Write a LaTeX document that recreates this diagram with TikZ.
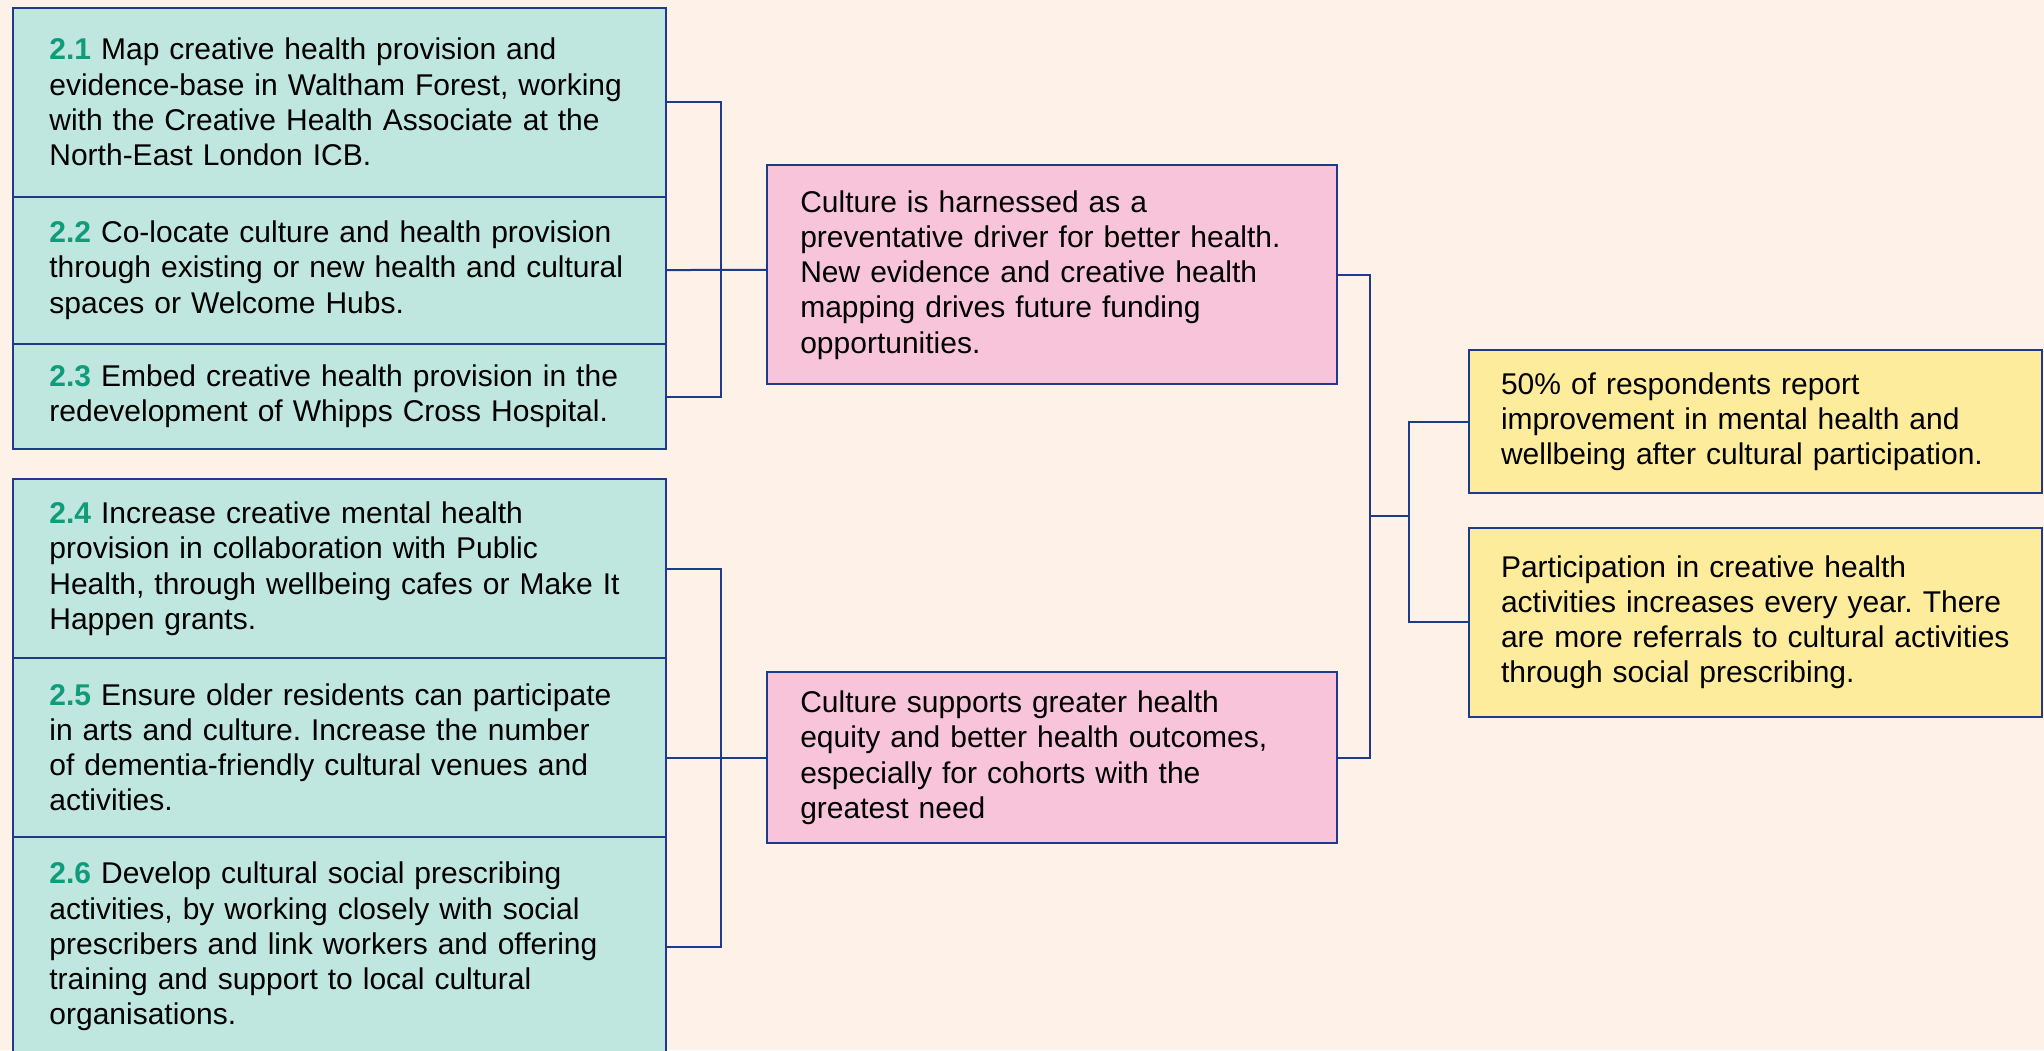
\documentclass[tikz,border=0pt]{standalone}
\usepackage{fontspec}
\setmainfont{Liberation Sans}
\frenchspacing

\definecolor{pagebg}{HTML}{FEF1E8}
\definecolor{actionfill}{HTML}{BFE6DF}
\definecolor{outcomefill}{HTML}{F7C4DA}
\definecolor{impactfill}{HTML}{FDEC9C}
\definecolor{navy}{HTML}{1F3A8A}
\definecolor{numgreen}{HTML}{109C7B}

\tikzset{
  box/.style={draw=navy, line width=1pt, anchor=north west, align=left,
    inner ysep=0pt, font=\fontsize{15}{17.6}\selectfont},
  action/.style={box, fill=actionfill, text width=290pt, inner xsep=18.2pt},
  outcome/.style={box, fill=outcomefill, text width=252pt, inner xsep=16.45pt},
  impact/.style={box, fill=impactfill, text width=254.7pt, inner xsep=16pt},
  link/.style={navy, line width=1pt},
}

\newcommand{\actno}[1]{\textcolor{numgreen}{\textbf{#1}}}

\begin{document}
\begin{tikzpicture}[x=1pt,y=-1pt]

\fill[pagebg] (0,0) rectangle (1022,525);
\useasboundingbox (0,0) rectangle (1022,525);
\clip (0,0) rectangle (1022,525);

% actions, left column
\node[action, minimum height=94.5pt] (t21) at (6,3.25)
  {\actno{2.1} Map creative health provision and\\evidence-base in Waltham Forest, working\\with the Creative Health Associate at the\\North-East London ICB.};
\node[action, minimum height=73.65pt] (t22) at (6,97.75)
  {\actno{2.2} Co-locate culture and health provision\\through existing or new health and cultural\\spaces or Welcome Hubs.};
\node[action, minimum height=52.8pt] (t23) at (6,171.4)
  {\actno{2.3} Embed creative health provision in the\\redevelopment of Whipps Cross Hospital.};

\node[action, minimum height=89.3pt] (t24) at (6,239.2)
  {\actno{2.4} Increase creative mental health\\provision in collaboration with Public\\Health, through wellbeing cafes or Make It\\Happen grants.};
\node[action, minimum height=89.3pt] (t25) at (6,328.5)
  {\actno{2.5} Ensure older residents can participate\\in arts and culture. Increase the number\\of dementia-friendly cultural venues and\\activities.};
\node[action, minimum height=110pt] (t26) at (6,417.8)
  {\actno{2.6} Develop cultural social prescribing\\activities, by working closely with social\\prescribers and link workers and offering\\training and support to local cultural\\organisations.};

% outcomes
\node[outcome, minimum height=109.5pt] (o1) at (383.2,82.2)
  {Culture is harnessed as a\\preventative driver for better health.\\New evidence and creative health\\mapping drives future funding\\opportunities.};
\node[outcome, minimum height=85.3pt] (o2) at (383.2,335.7)
  {Culture supports greater health\\equity and better health outcomes,\\especially for cohorts with the\\greatest need};

% impacts
\node[impact, minimum height=71.1pt] (r1) at (734,174.7)
  {50\% of respondents report\\improvement in mental health and\\wellbeing after cultural participation.};
\node[impact, minimum height=94.5pt] (r2) at (734,263.4)
  {Participation in creative health\\activities increases every year. There\\are more referrals to cultural activities\\through social prescribing.};

% brackets
\coordinate (busA) at (360.5,134.9);
\coordinate (busB) at (360.5,378.35);
\coordinate (busO) at (685,258);
\coordinate (busR) at (704.6,258);

\draw[link] (t21.east) -| (busA) |- (t23.east);
\draw[link] (t22.east) -- (busA) -- (o1.west |- busA);
\draw[link] (t24.east) -| (busB) |- (t26.east);
\draw[link] (t25.east |- o2.west) -- (o2.west);

\draw[link] (o1.east) -| (busO) |- (o2.east);
\draw[link] (busO) -- (busR);
\draw[link] (r1.west) -| (busR) |- (r2.west);

\end{tikzpicture}
\end{document}
